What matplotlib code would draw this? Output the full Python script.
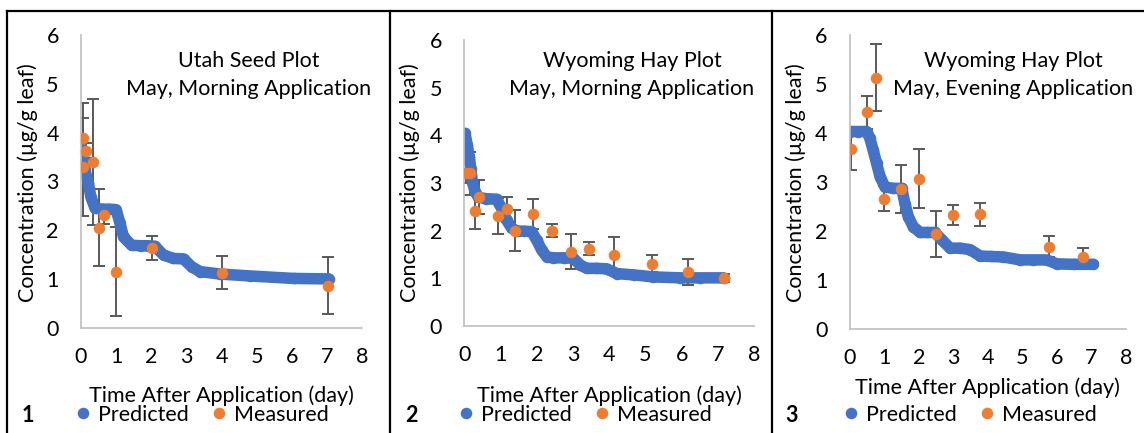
import matplotlib
matplotlib.use('Agg')
import matplotlib.pyplot as plt
from matplotlib.lines import Line2D

plt.rcParams['font.family'] = ['Lato', 'DejaVu Sans']

# predicted concentration curves (day, ug/g leaf)
utah_pred_t = [0.0, 0.05, 0.11, 0.21, 0.28, 0.40, 0.6, 0.8, 1.0, 1.11, 1.21, 1.44, 1.7, 1.9, 2.1,
               2.35, 2.63, 2.92, 3.15, 3.39, 3.96, 4.82, 6.05, 7.05]
utah_pred_c = [3.66, 3.50, 3.23, 2.96, 2.68, 2.45, 2.43, 2.43, 2.42, 2.14, 1.86, 1.69, 1.68, 1.68, 1.67,
               1.49, 1.42, 1.41, 1.25, 1.15, 1.10, 1.06, 1.01, 1.00]

hay_am_pred_t = [0.02, 0.08, 0.14, 0.18, 0.22, 0.30, 0.39, 0.6, 0.89, 1.03, 1.17, 1.31, 1.45, 1.65, 1.86,
                 2.0, 2.14, 2.28, 2.46, 2.75, 3.01, 3.2, 3.38, 3.65, 3.93, 4.21, 4.7, 5.22, 5.96, 6.5, 7.16]
hay_am_pred_c = [4.04, 3.80, 3.54, 3.29, 3.03, 2.82, 2.70, 2.67, 2.66, 2.47, 2.22, 2.05, 1.99, 1.99, 1.98,
                 1.80, 1.59, 1.45, 1.43, 1.43, 1.42, 1.28, 1.21, 1.21, 1.20, 1.10, 1.07, 1.03, 1.01, 1.01, 1.01]

hay_pm_pred_t = [0.0, 0.25, 0.49, 0.58, 0.68, 0.78, 0.88, 1.02, 1.25, 1.51, 1.6, 1.7, 1.84, 2.04, 2.25,
                 2.47, 2.67, 2.91, 3.2, 3.49, 3.78, 4.1, 4.45, 4.94, 5.3, 5.71, 6.0, 6.5, 7.06]
hay_pm_pred_c = [4.03, 4.03, 4.03, 3.90, 3.65, 3.38, 3.11, 2.90, 2.87, 2.87, 2.56, 2.29, 2.09, 1.97, 1.97,
                 1.97, 1.82, 1.65, 1.65, 1.62, 1.49, 1.48, 1.47, 1.41, 1.41, 1.41, 1.33, 1.32, 1.32]

# measured concentrations with error bars
utah_meas_t = [0.05, 0.07, 0.14, 0.35, 0.51, 0.66, 1.0, 2.01, 4.01, 7.02]
utah_meas_c = [3.88, 3.29, 3.63, 3.40, 2.05, 2.30, 1.15, 1.63, 1.13, 0.86]
utah_meas_e = [0.73, 1.0, 0.15, 1.29, 0.79, 0.18, 0.92, 0.25, 0.33, 0.58]

hay_am_meas_t = [0.05, 0.16, 0.30, 0.41, 0.92, 1.17, 1.41, 1.91, 2.41, 2.94, 3.43, 4.14, 5.17, 6.17, 7.16]
hay_am_meas_c = [3.20, 3.20, 2.42, 2.71, 2.31, 2.45, 2.00, 2.35, 2.00, 1.56, 1.62, 1.48, 1.31, 1.14, 1.01]
hay_am_meas_e = [0.19, 0.46, 0.39, 0.35, 0.38, 0.26, 0.43, 0.31, 0.13, 0.36, 0.14, 0.38, 0.17, 0.27, 0.09]

hay_pm_meas_t = [0.03, 0.51, 0.76, 0.99, 1.48, 2.01, 2.50, 3.00, 3.78, 5.77, 6.77]
hay_pm_meas_c = [3.67, 4.42, 5.13, 2.66, 2.85, 3.07, 1.94, 2.33, 2.34, 1.68, 1.46]
hay_pm_meas_e = [0.43, 0.34, 0.68, 0.25, 0.49, 0.61, 0.47, 0.21, 0.24, 0.22, 0.20]

titles = [('Utah Seed Plot', 'May, Morning Application'),
          ('Wyoming Hay Plot', 'May, Morning Application'),
          ('Wyoming Hay Plot', 'May, Evening Application')]

BLUE = '#4472C4'
ORANGE = '#ED7D31'
GREY = '#595959'
W, H = 1144, 433
FS = 15.5
MS = 8.3

fig = plt.figure(figsize=(W / 100, H / 100), dpi=100)

def fx(x):
    return x / W

def fy(y):
    return 1 - y / H

# pixel boxes: left, right, top, bottom of each plot area
boxes = [(81, 362, 35, 327.7), (464.3, 754, 40, 326), (849.7, 1125.7, 35, 329)]
xlab_y = [396, 396, 388]
ylab_x = [28, 410, 796]
num_x = [28, 411, 792]
title_cx = [249, 632, 1013]
legend_cx = [203, 586, 971]

series = [
    (utah_pred_t, utah_pred_c, utah_meas_t, utah_meas_c, utah_meas_e),
    (hay_am_pred_t, hay_am_pred_c, hay_am_meas_t, hay_am_meas_c, hay_am_meas_e),
    (hay_pm_pred_t, hay_pm_pred_c, hay_pm_meas_t, hay_pm_meas_c, hay_pm_meas_e),
]

for i, (box, data, ttl) in enumerate(zip(boxes, series, titles)):
    l, r, t, b = box
    ax = fig.add_axes([fx(l), fy(b), (r - l) / W, (b - t) / H])
    pt, pc, mt, mc, me = data

    ax.errorbar(mt, mc, yerr=me, fmt='none', ecolor=GREY, elinewidth=1.4,
                capsize=4, capthick=1.4, zorder=1)
    ax.plot(pt, pc, '-', color=BLUE, lw=MS, solid_capstyle='round', zorder=2)
    ax.plot(pt, pc, 'o', color=BLUE, ms=MS, mec='none', zorder=2, label='Predicted')
    ax.plot(mt, mc, 'o', color=ORANGE, ms=MS, mec='none', zorder=3, label='Measured')

    ax.set_xlim(0, 8)
    ax.set_ylim(0, 6)
    ax.set_xticks(range(0, 9))
    ax.set_yticks(range(0, 7))
    ax.tick_params(length=0, labelsize=FS, colors='black')
    ax.tick_params(axis='x', pad=14)
    ax.tick_params(axis='y', pad=16)
    for s in ['top', 'right']:
        ax.spines[s].set_visible(False)
    for s in ['left', 'bottom']:
        ax.spines[s].set_color('#BFBFBF')
        ax.spines[s].set_linewidth(1.2)

    ax.set_xlabel('Time After Application (day)', fontsize=FS, va='center')
    ax.xaxis.set_label_coords(fx((l + r) / 2), fy(xlab_y[i]), transform=fig.transFigure)
    ax.set_ylabel('Concentration (µg/g leaf)', fontsize=FS, va='center')
    ax.yaxis.set_label_coords(fx(ylab_x[i]), fy(182.5), transform=fig.transFigure)

    fig.text(fx(title_cx[i]), fy(61), ttl[0], fontsize=FS, ha='center', va='center')
    fig.text(fx(title_cx[i]), fy(89), ttl[1], fontsize=FS, ha='center', va='center')

    fig.text(fx(num_x[i]), fy(415), str(i + 1), fontsize=FS, fontweight='bold',
             ha='center', va='center')

    ax.legend(loc='center', bbox_to_anchor=(fx(legend_cx[i]), fy(415)),
              bbox_transform=fig.transFigure, ncol=2, frameon=False, fontsize=FS,
              handlelength=0.6, handletextpad=0.4, columnspacing=1.1, borderpad=0)

# panel frame lines
frame = [((7, 1144), (11, 11)), ((7, 7), (11, 433)), ((390, 390), (11, 433)), ((772, 772), (11, 433))]
for xs, ys in frame:
    fig.add_artist(Line2D([fx(xs[0]), fx(xs[1])], [fy(ys[0]), fy(ys[1])],
                          transform=fig.transFigure, color='black', lw=1.6))

fig.savefig('out.png', dpi=100)
